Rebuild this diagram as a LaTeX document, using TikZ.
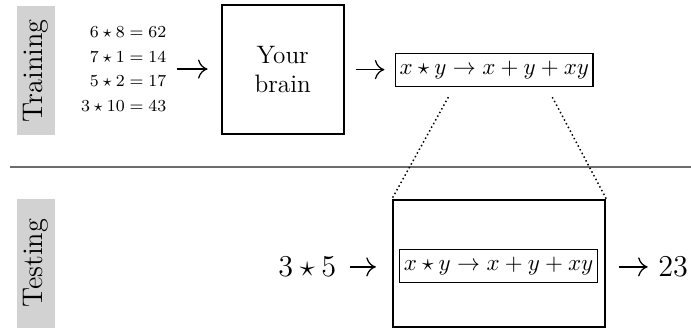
\documentclass[tikz,border=0pt]{standalone}
\usepackage{amsmath,amssymb}
\usepackage{tikz}
\usetikzlibrary{arrows.meta,calc}

\begin{document}
\begin{tikzpicture}[
    phase/.style={rotate=90, fill=gray!35, minimum width=2.16cm, minimum height=0.64cm,
                  inner sep=0pt, font=\fontsize{13.5}{16}\selectfont},
    bigbox/.style={draw, line width=1pt, align=center, font=\large},
    rulebox/.style={draw, line width=0.5pt, minimum width=3.30cm, minimum height=0.55cm,
                    inner sep=0pt, font=\fontsize{11}{13}\selectfont},
    arrow/.style={-{Computer Modern Rightarrow[length=1.6mm, width=3.2mm]}, line width=0.6pt},
    zoomline/.style={dash pattern=on 0.7pt off 1.3pt, line width=0.7pt},
    every node/.style={inner sep=0pt}
]
\useasboundingbox (0,0) rectangle (11.56,5.505);

% --- Phase labels ---
\node[phase] (train) at (0.60,4.32) {Training};
\node[phase] (test)  at (0.60,1.10) {Testing};

% --- Training row ---
\node[align=right, font=\footnotesize, anchor=east] (examples) at (2.79,4.35)
    {$6\star8=62$\\[2.3pt] $7\star1=14$\\[2.3pt] $5\star2=17$\\[2.3pt] $3\star10=43$};
\node[bigbox, minimum width=2.04cm, minimum height=2.16cm] (brain) at (4.73,4.34) {Your\\brain};
\node[rulebox] (rule) at (8.27,4.34) {$x\star y\rightarrow x+y+xy$};

\draw[arrow, shorten <=0.17cm, shorten >=0.22cm] (examples.east) -- (examples.east -| brain.west);
\draw[arrow, shorten <=0.18cm, shorten >=0.18cm] (brain.east) -- (rule.west);

% --- separator ---
\draw[gray!85!black, line width=0.6pt] (0.17,2.71) -- (11.56,2.71);

% --- Testing row ---
\node[font=\fontsize{13.5}{16}\selectfont] (query) at (5.14,1.04) {$3\star5$};
\node[draw, line width=1pt, minimum width=3.55cm, minimum height=2.12cm] (model) at (8.35,1.10) {};
\node[rulebox] (rule2) at (8.34,1.05) {$x\star y\rightarrow x+y+xy$};
\node[font=\Large] (answer) at (11.26,1.04) {$23$};

\draw[arrow, shorten <=0.22cm, shorten >=0.27cm] (query.east) -- (query.east -| model.west);
\draw[arrow, shorten <=0.22cm, shorten >=0.17cm] (answer.west -| model.east) -- (answer.west);

% --- zoom lines ---
\coordinate (zl) at (7.50,3.88);
\coordinate (zr) at (9.24,3.88);
\draw[zoomline] (zl) -- (model.north west);
\draw[zoomline] (zr) -- (model.north east);

\end{tikzpicture}
\end{document}
